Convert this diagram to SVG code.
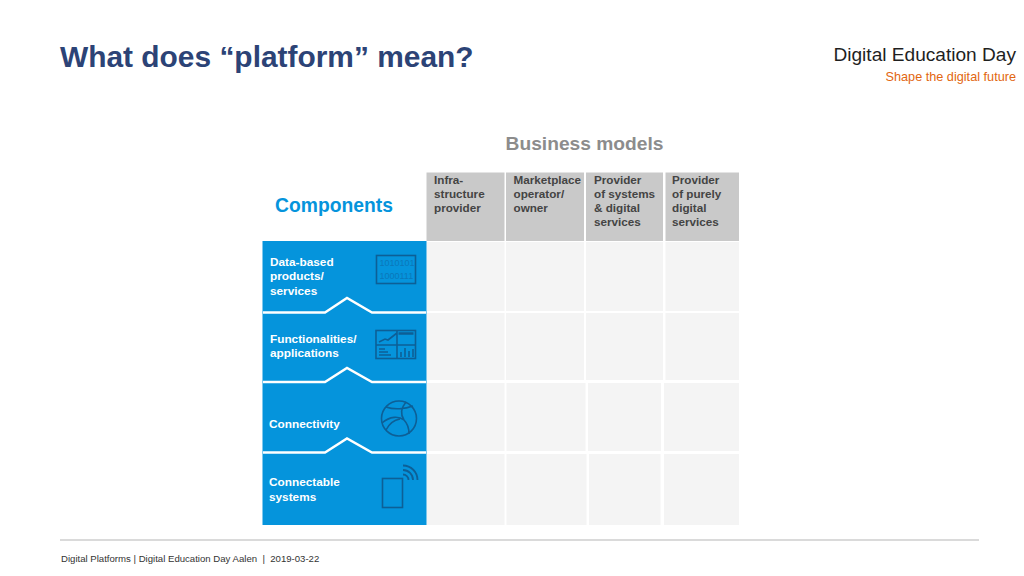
<svg xmlns="http://www.w3.org/2000/svg" width="1024" height="576" viewBox="0 0 1024 576">
<style>
text{font-family:"Liberation Sans",Arial,sans-serif}
.b{font-weight:bold}
.w{fill:#fff;font-size:11.8px;font-weight:bold}
.h{fill:#444;font-size:11.7px;font-weight:bold}
.g{fill:#c9c9c9}
.c{fill:#f4f4f4}
.bl{fill:#0594dc}
.sep{fill:none;stroke:#fff;stroke-width:2.4}
.ic{fill:none;stroke:#0d5f96;stroke-width:1.6}
.it{fill:#0a78ba;font-size:9px}
</style>
<rect width="1024" height="576" fill="#fff"/>
<g id="title"><text x="60" y="67" class="b" font-size="29.900" fill="#2c4376">What does “platform” mean?</text></g>
<g id="brand">
<text x="1016" y="61" font-size="19.100" text-anchor="end" fill="#1f1f1f">Digital Education Day</text>
<text x="1016" y="81" font-size="12.700" text-anchor="end" fill="#e2660f">Shape the digital future</text>
</g>
<g id="headings">
<text x="584.500" y="149.500" text-anchor="middle" class="b" font-size="19.200" fill="#8c8c8c">Business models</text>
<text x="334" y="212" text-anchor="middle" class="b" font-size="19.300" fill="#0594dc">Components</text>
</g>
<g id="matrix-cells">
<rect class="g" x="426.500" y="172.500" width="78" height="68.500"/>
<rect class="g" x="506" y="172.500" width="78" height="68.500"/>
<rect class="g" x="586" y="172.500" width="77" height="68.500"/>
<rect class="g" x="665.500" y="172.500" width="73.500" height="68.500"/>
<g class="c">
<rect x="426.500" y="242" width="78" height="69"/><rect x="506" y="242" width="78" height="69"/><rect x="586" y="242" width="77" height="69"/><rect x="665.500" y="242" width="73.500" height="69"/>
<rect x="426.500" y="313" width="78" height="67"/><rect x="506" y="313" width="78" height="67"/><rect x="586" y="313" width="77" height="67"/><rect x="665.500" y="313" width="73.500" height="67"/>
<rect x="426.500" y="383" width="78" height="68"/><rect x="506.500" y="383" width="79" height="68"/><rect x="588" y="383" width="73" height="68"/><rect x="664" y="383" width="75" height="68"/>
<rect x="426.500" y="454" width="78" height="71"/><rect x="506.500" y="454" width="80" height="71"/><rect x="589" y="454" width="71.500" height="71"/><rect x="664" y="454" width="75" height="71"/>
</g>
</g>
<g id="bm-labels">
<text class="h" x="434" y="184">Infra-</text><text class="h" x="434" y="198">structure</text><text class="h" x="434" y="212">provider</text>
<text class="h" x="513.500" y="184">Marketplace</text><text class="h" x="513.500" y="198">operator/</text><text class="h" x="513.500" y="212">owner</text>
<text class="h" x="594" y="184">Provider</text><text class="h" x="594" y="198">of systems</text><text class="h" x="594" y="212">&amp; digital</text><text class="h" x="594" y="226">services</text>
<text class="h" x="672" y="184">Provider</text><text class="h" x="672" y="198">of purely</text><text class="h" x="672" y="212">digital</text><text class="h" x="672" y="226">services</text>
</g>
<g id="stack-background"><rect class="bl" x="262.500" y="241" width="164" height="284"/></g>
<g id="data-products">
<text class="w" x="270" y="266">Data-based</text><text class="w" x="270" y="280">products/</text><text class="w" x="270" y="294.500">services</text>
<rect class="ic" x="376.500" y="255.500" width="39" height="28"/>
<text class="it" x="379.500" y="266">1010101</text><text class="it" x="379.500" y="279">1000111</text>
</g>
<g id="functionalities">
<text class="w" x="270" y="343">Functionalities/</text><text class="w" x="270" y="357">applications</text>
<rect class="ic" x="376" y="330.500" width="39.500" height="28"/>
<path class="ic" d="M397 331V358M376 345H415M379 342l6-3 3 1 9-7M379 349h6M379 352h9M379 355h12M401 357v-5M405 357v-9M409 357v-6M413 357v-8"/>
<path d="M398.500 333.500h15" stroke="#0d5f96" stroke-width="2.500" fill="none"/>
</g>
<g id="connectivity">
<text class="w" x="269" y="428">Connectivity</text>
<circle class="ic" cx="399" cy="418.500" r="17.500"/>
<path class="ic" d="M386 407c8 3 19 2 27-1M382 423c8-7 17-7 22-3 4 4 5 10 5 14M406 402c-5 6-6 12-2 18M386 430c3-6 8-10 14-11"/>
</g>
<g id="connectable">
<text class="w" x="269" y="486">Connectable</text><text class="w" x="269" y="500.500">systems</text>
<rect class="ic" x="382.500" y="478.500" width="20" height="29"/>
<path d="M403 474.500a5.500 5.500 0 0 1 5.500 5.500M403 470a10 10 0 0 1 10 10M403 465.500a14.500 14.500 0 0 1 14.500 14.500" fill="none" stroke="#0d5f96" stroke-width="1.800"/>
</g>
<g id="connectors">
<path class="sep" d="M263 312.500H325L347 298L372 312.500H426"/>
<path class="sep" d="M263 382H325L347 368L372 382H426"/>
<path class="sep" d="M263 452.500H325L347 438.500L372 452.500H426"/>
</g>
<g id="footer">
<line x1="60" y1="540" x2="979" y2="540" stroke="#b5b5b5" stroke-width="1.200"/>
<text x="61" y="562" font-size="9.600" fill="#333" xml:space="preserve">Digital Platforms | Digital Education Day Aalen  |  2019-03-22</text>
</g>
</svg>
